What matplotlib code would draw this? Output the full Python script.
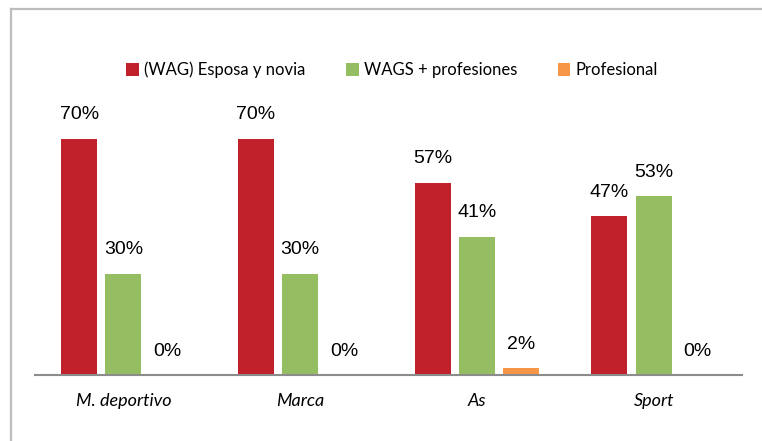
import matplotlib.pyplot as plt
from matplotlib.lines import Line2D
import numpy as np

# datos
categorias = ['M. deportivo', 'Marca', 'As', 'Sport']
series = ['(WAG) Esposa y novia', 'WAGS + profesiones', 'Profesional']
wag = [70, 70, 57, 47]
wags_prof = [30, 30, 41, 53]
profesional = [0, 0, 2, 0]
colores = ['#C1212A', '#95BD62', '#F79646']

fig = plt.figure(figsize=(7.62, 4.41), dpi=100)
ax = fig.add_axes([35 / 762, 66 / 441, 707 / 762, 270 / 441])

# marco gris de la figura: solo se ve el borde superior y el izquierdo
xb, yb = 11 / 762, 1 - 9 / 441
fig.add_artist(Line2D([xb, 1.1], [yb, yb], transform=fig.transFigure, color='#BDBDBD', lw=1.6))
fig.add_artist(Line2D([xb, xb], [-0.1, yb], transform=fig.transFigure, color='#BDBDBD', lw=1.6))

x = np.arange(len(categorias))
ancho = 0.204
paso = 0.25
valores = [wag, wags_prof, profesional]
for i, (nombre, vals, c) in enumerate(zip(series, valores, colores)):
    pos = x + (i - 1) * paso
    barras = ax.bar(pos, vals, width=ancho, color=c, label=nombre)
    for b, v in zip(barras, vals):
        ax.annotate(f'{v}%', (b.get_x() + b.get_width() / 2, v), xytext=(0, 11),
                    textcoords='offset points', ha='center', va='bottom',
                    fontsize=14, family='Liberation Sans')

ax.set_xlim(-0.5, 3.5)
ax.set_ylim(0, 80)
ax.set_yticks([])
ax.set_xticks(x)
ax.set_xticklabels(categorias, fontsize=13, style='italic', family='Lato')
ax.tick_params(axis='x', length=0, pad=13)
for s in ['top', 'right', 'left']:
    ax.spines[s].set_visible(False)
ax.spines['bottom'].set_color('#8C8C8C')
ax.spines['bottom'].set_linewidth(1.5)

fig.legend(loc='center', bbox_to_anchor=(392 / 762, 1 - 70 / 441), ncol=3, frameon=False,
           prop={'family': 'Lato', 'size': 12}, handlelength=0.75, handleheight=0.75,
           handletextpad=0.3, columnspacing=2.45)

fig.savefig('out.png', dpi=100)
